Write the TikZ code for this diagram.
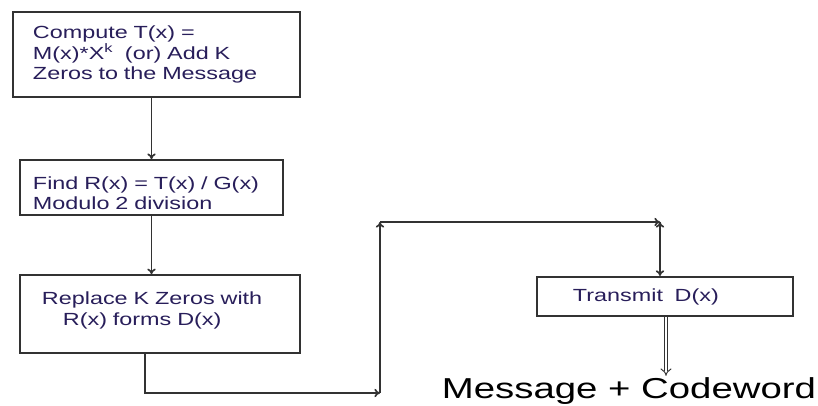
\documentclass[tikz,border=0pt]{standalone}
\usepackage{fontspec}
\setmainfont{Liberation Sans}
\newfontfamily\wideface[FakeStretch=1.33]{Liberation Sans}
\usetikzlibrary{positioning,arrows.meta}
\definecolor{boxtext}{RGB}{40,30,90}
\definecolor{linegray}{RGB}{50,50,50}
\tikzset{box node/.style={rectangle,draw=linegray,line width=1.5pt,fill=white,text=boxtext,
    font=\wideface\fontsize{12.5}{14.4}\selectfont,inner sep=0pt,align=left},
  arr/.style={draw=linegray,line width=1.2pt,-{To[length=4pt,width=6pt]}},}

\begin{document}
\begin{tikzpicture}[x=0.025cm,y=-0.025cm]
      \useasboundingbox (0,0) rectangle (818,406);
      \node[box node,minimum width=7.175cm,minimum height=2.125cm,text width=6.175cm] (1) at (156.5,54.5)
        {Compute T(x) =\\M(x)*X\textsuperscript{k}\ \ (or) Add K\\Zeros to the Message};
      \node[box node,minimum width=6.575cm,minimum height=1.375cm,text width=5.925cm]
        (2) [below=1.525cm of 1,xshift=-0.125cm] {\rule{0pt}{0.6cm}Find R(x) = T(x) / G(x)\\Modulo 2 division};
      \node[box node,minimum width=7cm,minimum height=1.95cm,text width=5.9cm]
        (3) [below=1.45cm of 2,xshift=0.2125cm] {Replace K Zeros with\\\hspace*{0.525cm}R(x) forms D(x)\rule[-0.28cm]{0pt}{0pt}};
      \node[box node,minimum width=6.4cm,minimum height=0.975cm,text width=4.6cm] (4) at (665,296.5)
        {Transmit\ \ D(x)};
      \node[font=\wideface\fontsize{20.5}{24}\selectfont,inner sep=0pt,anchor=base] (5) at (629,399) {Message + Codeword};

      \coordinate (c1) at (380,393);
      \coordinate (c2) at (380,222);
      \coordinate (c3) at (660,222);

      \path[arr]
        (1.south -| 2.north) edge (2.north)
        (2.south) edge (2.south |- 3.north)
        (c1) edge (c2)
        (c2) edge (c3)
        (c3) edge (c3 |- 4.north);
      \draw[arr] ([xshift=-0.375cm]3.south) |- (c1);
      \draw[linegray,line width=0.7pt,double,double distance=2pt,-{Implies}]
        ([xshift=0.025cm]4.south) -- ([xshift=0.025cm,yshift=0.05cm]4.south |- 5.north);

    \end{tikzpicture}
\end{document}
